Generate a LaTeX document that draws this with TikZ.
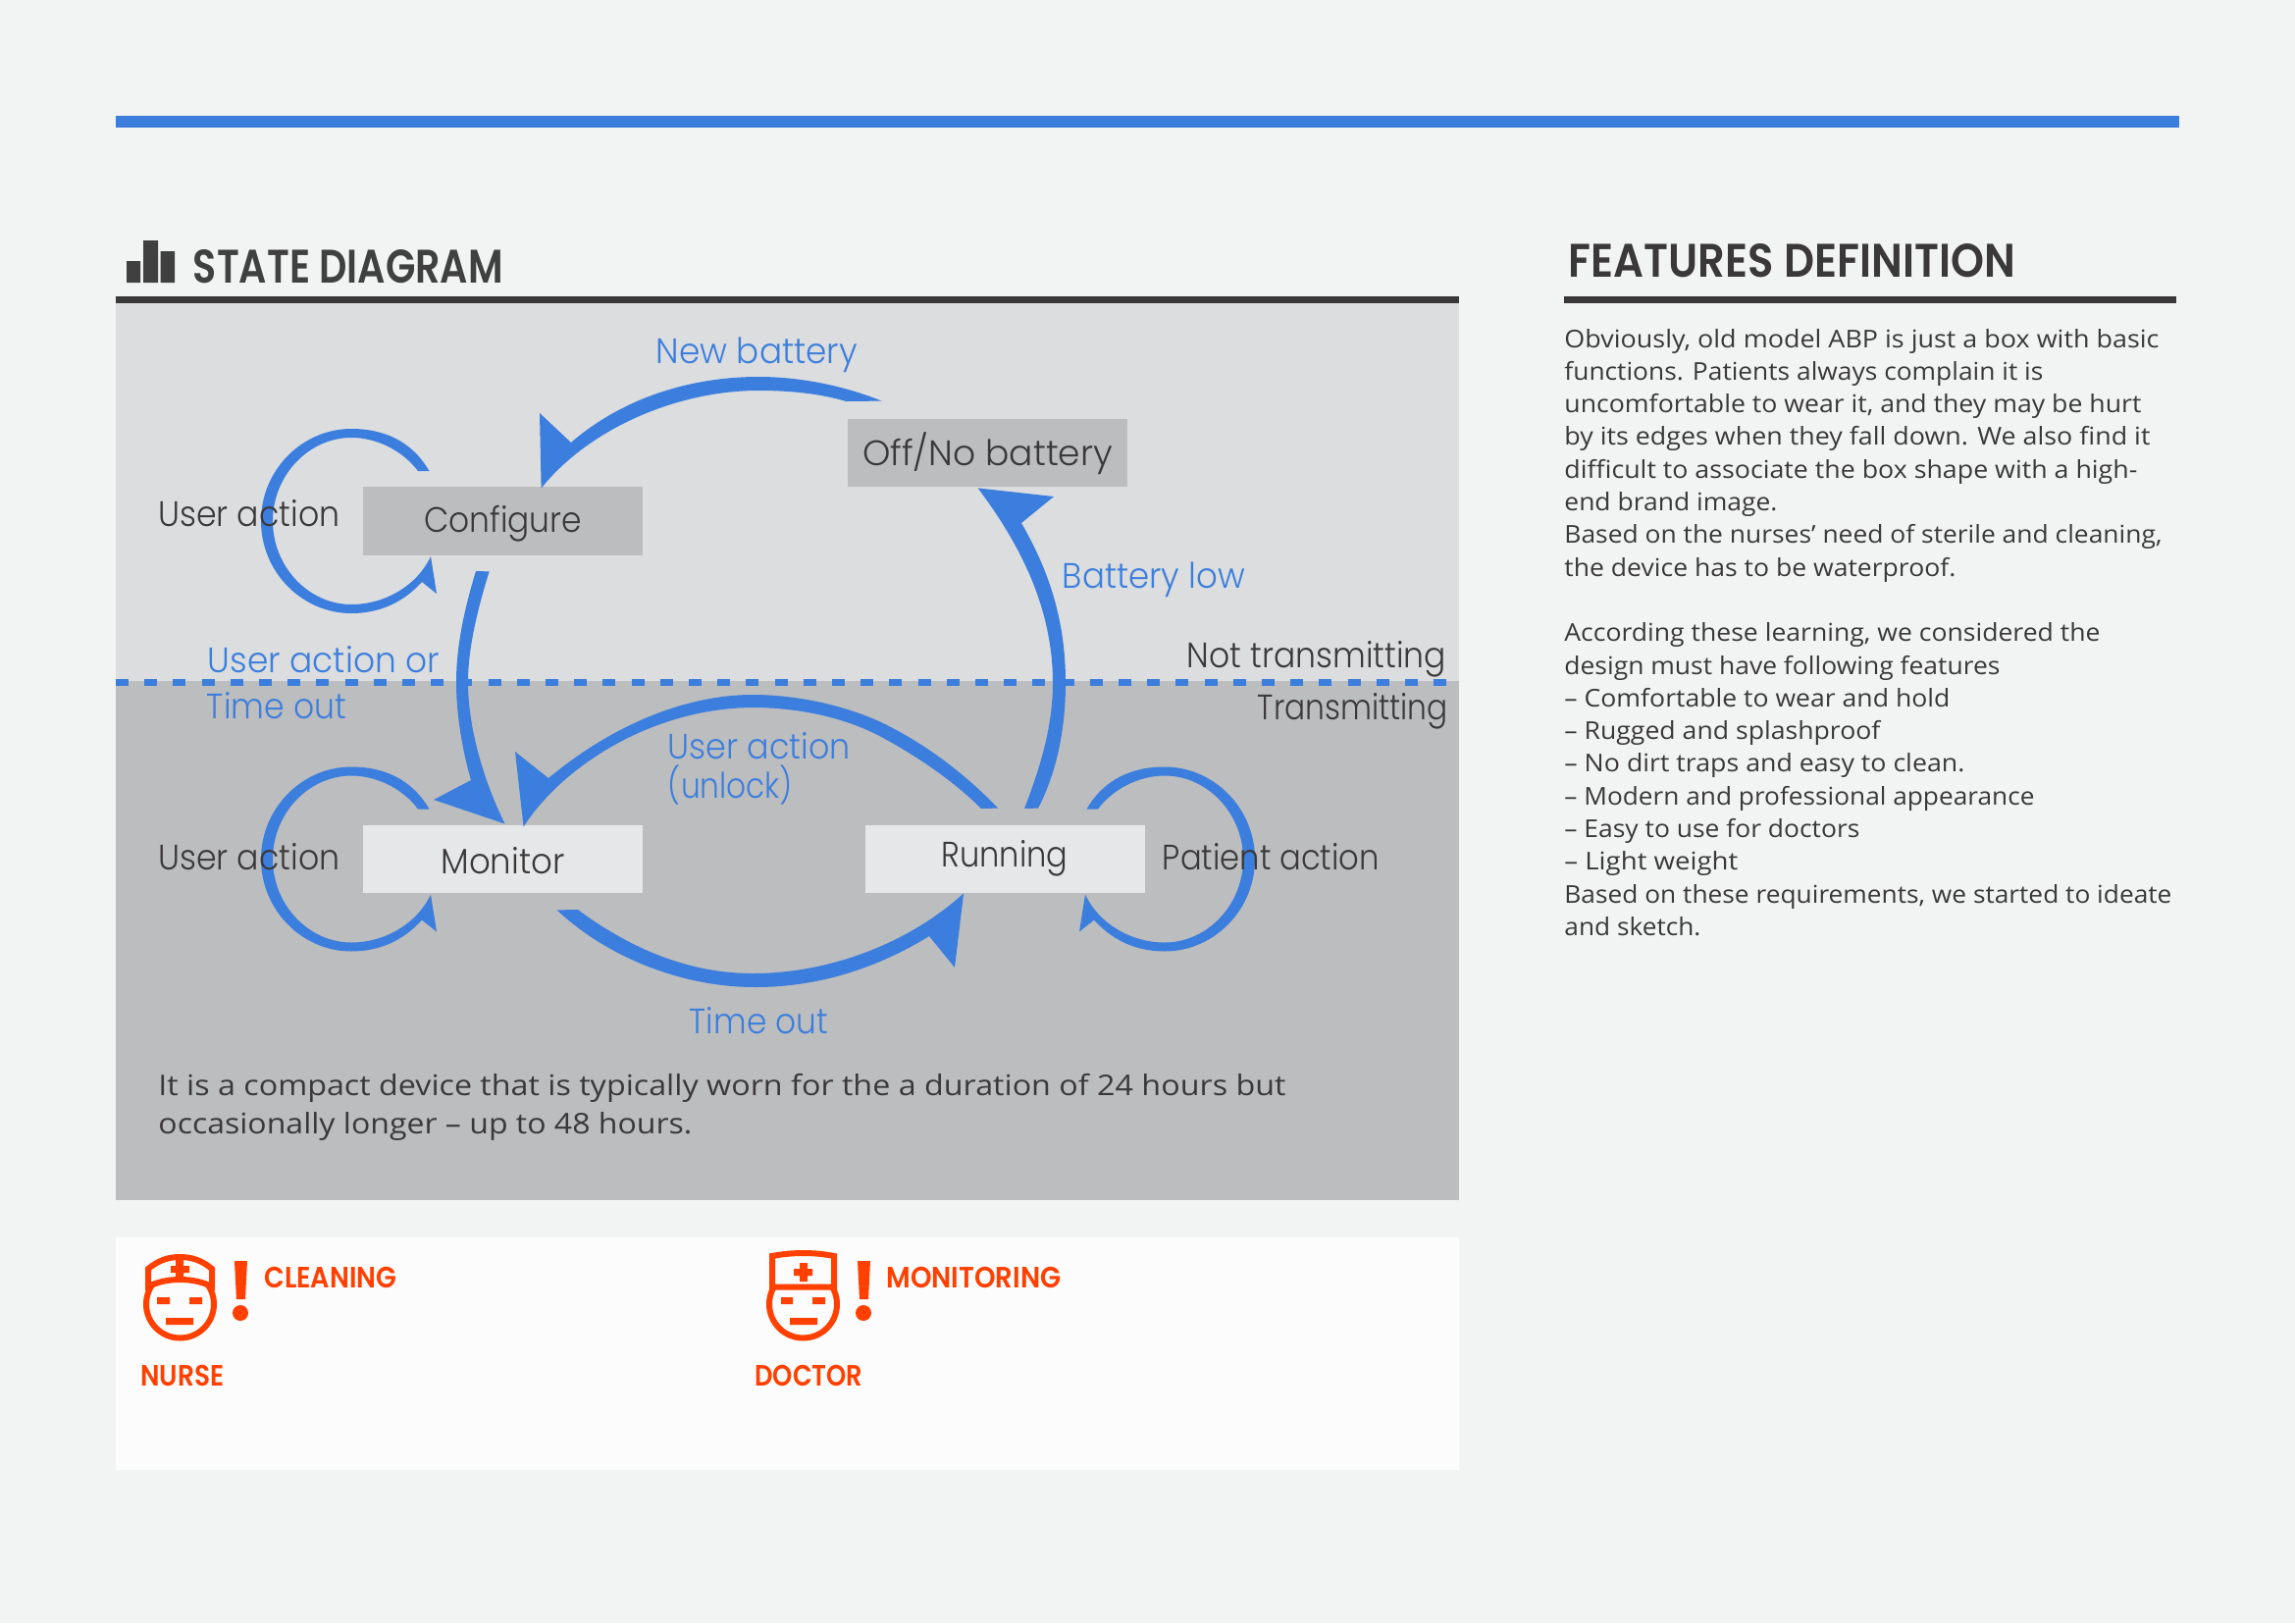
\documentclass[tikz,border=0pt]{standalone}
\usepackage{fontspec}
\usepackage{graphicx}
\setmainfont{Open Sans}
\newfontfamily\labfont{Poppins}[UprightFont=* Light]
\newfontfamily\headfont{Poppins}[UprightFont=* SemiBold]
\newlength{\pxu}\setlength{\pxu}{0.5pt}
\newcommand{\fitw}[2]{\resizebox{#1\pxu}{\height}{#2}}
\definecolor{pagebg}{HTML}{F2F4F3}
\definecolor{bluec}{HTML}{3C7EDD}
\definecolor{darkc}{HTML}{3A3839}
\definecolor{panelA}{HTML}{DBDDDF}
\definecolor{panelB}{HTML}{BCBDBF}
\definecolor{boxlight}{HTML}{E6E7E8}
\definecolor{whitep}{HTML}{FCFCFC}
\definecolor{orangec}{HTML}{FF4000}
\definecolor{titlec}{HTML}{404041}
\tikzset{
  x=0.5pt,y=-0.5pt,
  txt/.style={inner sep=0pt,anchor=base west},
  lab/.style={txt,xshift=-0.75pt,font=\labfont\fontsize{18}{20}\selectfont},
  bluelab/.style={lab,text=bluec},
  darklab/.style={lab,text=darkc},
  bodytxt/.style={txt,text=darkc,font=\fontsize{12.5}{15}\selectfont},
  bottomtxt/.style={txt,text=darkc,font=\fontsize{14.5}{17}\selectfont},
  headtxt/.style={txt,xshift=-0.75pt,font=\headfont\fontsize{24}{26}\selectfont},
  oratxt/.style={txt,xshift=-0.5pt,text=orangec,font=\headfont\fontsize{15}{17}\selectfont},
  statebox/.style={inner sep=0pt,anchor=base,minimum width=285\pxu,text=darkc,font=\labfont\fontsize{18}{20}\selectfont},
  crescent/.style={fill=bluec,draw=none},
  icon/.style={draw=orangec,line width=3pt,fill=none},
  iconfill/.style={fill=orangec,draw=none},
}
\newcommand{\loopshape}{%
  \path[crescent] (437.5,480) .. controls (420,450) and (392,437) .. (358,437)
    .. controls (308,437) and (266,479) .. (266,531)
    .. controls (266,583) and (308,625) .. (358,625)
    .. controls (388,625) and (412,613) .. (430,593)
    -- (445,605) -- (439,567)
    .. controls (425,597) and (392,616) .. (358,616)
    .. controls (315,616) and (278,578) .. (278,531)
    .. controls (278,484) and (315,446) .. (358,446)
    .. controls (385,446) and (411,460) .. (426,480) -- cycle;}
\newcommand{\bodyline}[3]{\node[bodytxt] (body#1) at (1594,{354+33.3*#1}) {\fitw{#2}{#3}};}
\begin{document}
\begin{tikzpicture}
\useasboundingbox (0,0) rectangle (2339,1654);
\fill[pagebg] (0,0) rectangle (2339,1654);
% rules and panels
\fill[bluec] (118,118) rectangle (2221,130);
\fill[panelA] (118,309) rectangle (1487,694);
\fill[panelB] (118,694) rectangle (1487,1223);
\fill[whitep] (118,1260.5) rectangle (1487,1497.5);
\fill[darkc] (118,302) rectangle (1487,309);
\fill[darkc] (1594,302) rectangle (2218,309);
\draw[bluec,line width=3.5pt,dash pattern=on 6.5pt off 8.1pt] (118,695) -- (1489,695);
% title bars
\fill[titlec] (129,266) rectangle (143,288) (146,245) rectangle (161,288) (163.5,256) rectangle (178,288);
% state boxes
\node[statebox,fill=panelB,text height=46\pxu,text depth=24\pxu] (configure) at (512.5,542) {\fitw{161}{Configure}};
\node[statebox,fill=boxlight,text height=49\pxu,text depth=20\pxu] (monitor) at (512.5,890) {\fitw{126}{Monitor}};
\node[statebox,fill=panelB,text height=47\pxu,text depth=22\pxu] (off) at (1006.5,474) {\fitw{255}{Off/No battery}};
\node[statebox,fill=boxlight,text height=42.5\pxu,text depth=26.5\pxu] (running) at (1024,883.5) {\fitw{129}{Running}};
% arrow ends
\coordinate (nbTail) at ([shift={(35,-18)}]off.north west);
\coordinate (nbTip) at ([shift={(182,2)}]configure.north west);
\coordinate (cmTail) at ([shift={(129,16)}]configure.south west);
\coordinate (cmTip) at ([shift={(145,-1)}]monitor.north west);
\coordinate (ulTail) at ([shift={(136,-17)}]running.north west);
\coordinate (ulTip) at ([shift={(164,2)}]monitor.north west);
\coordinate (blTail) at ([shift={(177,-17)}]running.north west);
\coordinate (blTip) at ([shift={(133,1)}]off.south west);
\coordinate (toTail) at ([shift={(198,17)}]monitor.south west);
\coordinate (toTip) at ([shift={(101,0)}]running.south west);
% New battery
\path[crescent] (nbTail) .. controls (860,393) and (815,384) .. (773,384)
  .. controls (705,384) and (635,405) .. (582,451)
  -- (550,421) -- (nbTip)
  .. controls (600,437) and (690,398) .. (773,398)
  .. controls (805,398) and (835,401) .. (862.5,409) -- cycle;
% Configure to Monitor
\path[crescent] (cmTail) .. controls (487,620) and (477,660) .. (477,695)
  .. controls (477,745) and (495,800) .. (cmTip)
  -- (442,815) -- (480,795)
  .. controls (470,760) and (465,725) .. (465,695)
  .. controls (465,655) and (475,615) .. (485,582) -- cycle;
% User action (unlock)
\path[crescent] (ulTail) .. controls (985,790) and (945,759) .. (900,737)
  .. controls (860,718) and (810,708) .. (767,708)
  .. controls (700,708) and (625,738) .. (559,793)
  -- (525,766) -- (ulTip)
  .. controls (570,785) and (660,722) .. (767,721)
  .. controls (810,721) and (860,730) .. (900,752)
  .. controls (935,771) and (972,796) .. (1000,824) -- cycle;
% Battery low
\path[crescent] (blTail) .. controls (1078,785) and (1086,740) .. (1086,696)
  .. controls (1086,630) and (1068,580) .. (1041,533)
  -- (1074,506) -- (blTip)
  .. controls (1040,555) and (1073,620) .. (1073,696)
  .. controls (1073,745) and (1057,790) .. (1044,824) -- cycle;
% Time out
\path[crescent] (toTail) .. controls (615,972) and (690,1006) .. (770,1006)
  .. controls (835,1006) and (895,986) .. (947,954)
  -- (973,986) -- (toTip)
  .. controls (930,958) and (850,992) .. (767,992)
  .. controls (700,992) and (640,965) .. (589,927) -- cycle;
% self loops
\loopshape
\begin{scope}[shift={(0,344.5)}]\loopshape\end{scope}
\begin{scope}[shift={(1545,344.5)},xscale=-1]\loopshape\end{scope}
% headings
\node[headtxt,text=titlec] (title1) at (198,288) {\fitw{316}{STATE DIAGRAM}};
\node[headtxt,text=darkc] (title2) at (1600,282) {\fitw{455}{FEATURES DEFINITION}};
% diagram labels
\node[bluelab] (lnb) at (670,370) {\fitw{205}{New battery}};
\node[darklab] (lua1) at (162.5,536) {\fitw{185}{User action}};
\node[darklab] (lua2) at (162.5,886) {\fitw{185}{User action}};
\node[bluelab] (luo) at (213,685) {\fitw{236}{User action or}};
\node[bluelab] (lto1) at (212,732) {\fitw{142}{Time out}};
\node[bluelab] (lun1) at (682,773) {\fitw{186}{User action}};
\node[bluelab] (lun2) at (682,813) {\fitw{127}{(unlock)}};
\node[bluelab] (lto2) at (704,1053) {\fitw{141}{Time out}};
\node[bluelab] (lbl) at (1084,599) {\fitw{186}{Battery low}};
\node[darklab] (lnt) at (1211,680) {\fitw{264}{Not transmitting}};
\node[darklab] (ltr) at (1283,733) {\fitw{194}{Transmitting}};
\node[darklab] (lpa) at (1186,886) {\fitw{221}{Patient action}};
% bottom text
\node[bottomtxt] (note1) at (161,1116) {\fitw{1149}{It is a compact device that is typically worn for the a duration of 24 hours but}};
\node[bottomtxt] (note2) at (161,1155) {\fitw{544}{occasionally longer – up to 48 hours.}};
% body text
\bodyline{0}{606}{Obviously, old model ABP is just a box with basic}
\bodyline{1}{488}{functions. Patients always complain it is}
\bodyline{2}{588}{uncomfortable to wear it, and they may be hurt}
\bodyline{3}{597}{by its edges when they fall down. We also find it}
\bodyline{4}{584}{difficult to associate the box shape with a high-}
\bodyline{5}{217}{end brand image.}
\bodyline{6}{609}{Based on the nurses’ need of sterile and cleaning,}
\bodyline{7}{399}{the device has to be waterproof.}
\bodyline{9}{546}{According these learning, we considered the}
\bodyline{10}{444}{design must have following features}
\bodyline{11}{393}{– Comfortable to wear and hold}
\bodyline{12}{322}{– Rugged and splashproof}
\bodyline{13}{408}{– No dirt traps and easy to clean.}
\bodyline{14}{479}{– Modern and professional appearance}
\bodyline{15}{301}{– Easy to use for doctors}
\bodyline{16}{177}{– Light weight}
\bodyline{17}{619}{Based on these requirements, we started to ideate}
\bodyline{18}{139}{and sketch.}
% nurse icon
\draw[icon] (183.5,1329) circle (34.5);
\fill[whitep] (150,1300) rectangle (217,1312);
\draw[icon,fill=whitep] (151,1311) -- (151,1293) .. controls (162,1284) and (172,1281) .. (183.5,1281)
  .. controls (195,1281) and (205,1284) .. (216,1293) -- (216,1311)
  .. controls (205,1306) and (195,1304) .. (183.5,1304) .. controls (172,1304) and (162,1306) .. (151,1311) -- cycle;
\fill[iconfill] (174,1290) rectangle (193,1297) (179,1283) rectangle (187,1303);
\fill[iconfill] (160,1322) rectangle (173,1329) (193,1322) rectangle (206,1329) (169,1343) rectangle (197,1350);
\fill[iconfill] (239,1285) -- (252,1285) -- (250,1324) -- (241,1324) -- cycle;
\fill[iconfill] (245,1338) circle (8);
% doctor icon
\draw[icon] (818.5,1329) circle (34.5);
\draw[icon,fill=whitep] (787,1311.5) -- (787,1280) .. controls (808,1276) and (830,1276) .. (850,1280) -- (850,1311.5) -- cycle;
\fill[iconfill] (809,1293) rectangle (828,1300) (815,1287) rectangle (823,1306);
\fill[iconfill] (796,1322) rectangle (808,1329) (828,1322) rectangle (841,1329) (805,1343) rectangle (833,1350);
\fill[iconfill] (874,1285) -- (887,1285) -- (885,1324) -- (876,1324) -- cycle;
\fill[iconfill] (880,1338) circle (8);
% icon labels
\node[oratxt] (lclean) at (270,1312) {\fitw{135}{CLEANING}};
\node[oratxt] (lnurse) at (144,1412) {\fitw{85}{NURSE}};
\node[oratxt] (lmon) at (904,1312) {\fitw{178}{MONITORING}};
\node[oratxt] (ldoc) at (770,1412) {\fitw{110}{DOCTOR}};
\end{tikzpicture}
\end{document}
